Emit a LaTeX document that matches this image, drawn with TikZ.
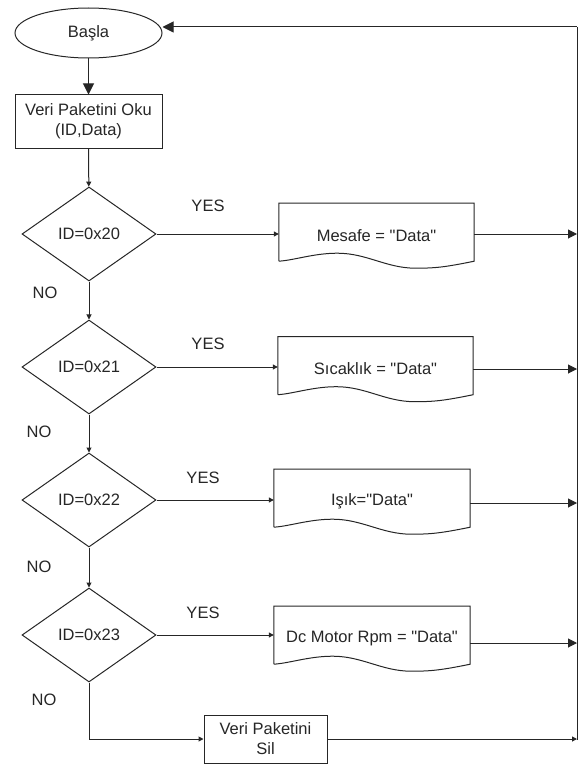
\documentclass[tikz,border=0pt]{standalone}
\usepackage{fontspec}
\setmainfont{Liberation Sans}[Ligatures=TeXOff]
\usetikzlibrary{shapes.geometric,arrows.meta,calc}
\newcommand\docshape[1]{%
  \begin{scope}[shift={(#1.south west)}]
    \path let \p1=($(#1.south east)-(#1.south west)$) in
      [draw=black!85, line width=1pt]
      (0,7) -- (0,65) -- (\x1,65) -- (\x1,7)
      .. controls (0.85*\x1,1) and (0.8*\x1,0) .. (0.7*\x1,0)
      .. controls (0.55*\x1,0) and (0.45*\x1,15) .. (0.3*\x1,15)
      .. controls (0.18*\x1,15) and (0.08*\x1,8) .. (0,7);
  \end{scope}}
\begin{document}
\begin{tikzpicture}[x=1pt,y=1pt,
  font=\fontsize{16.5}{20}\selectfont,
  every node/.style={text=black!85},
  conn/.style={draw=black!85, line width=1pt},
  bigarrow/.style={conn, -{Triangle[length=11pt,width=11pt]}},
  midarrow/.style={conn, -{Triangle[length=9pt,width=9pt]}},
  smallarrow/.style={conn, -{Triangle[length=5pt,width=5pt]}},
  startnode/.style={ellipse, draw=black!85, line width=1pt, minimum width=147pt, minimum height=50pt, inner sep=0pt},
  procbox/.style={rectangle, draw=black!85, line width=1pt, align=center, inner sep=0pt},
  decision/.style={diamond, draw=black!85, line width=1pt, aspect=1.43, minimum width=134pt, minimum height=94pt, inner sep=0pt},
  docnode/.style={rectangle, inner sep=0pt, minimum height=65pt},
  lbl/.style={inner sep=0pt}
]
\useasboundingbox (0,0) rectangle (579,-765);

\node[startnode] (start) at (88.5,-33) {Başla};
\node[procbox, minimum width=147pt, minimum height=53pt] (read) at (88.5,-121.5) {Veri Paketini Oku\\(ID,Data)};

\node[decision] (dia1) at (89,-234) {ID=0x20};
\node[decision] (dia2) at (89,-367) {ID=0x21};
\node[decision] (dia3) at (89,-500) {ID=0x22};
\node[decision] (dia4) at (89,-635) {ID=0x23};

\node[docnode, minimum width=195pt] (d1) at (376.5,-235.5) {Mesafe = "Data"};
\node[docnode, minimum width=195pt] (d2) at (375.5,-369) {Sıcaklık = "Data"};
\node[docnode, minimum width=196pt] (d3) at (372,-501.5) {Işık="Data"};
\node[docnode, minimum width=196pt] (d4) at (372,-638.5) {Dc Motor Rpm = "Data"};
\docshape{d1}
\docshape{d2}
\docshape{d3}
\docshape{d4}

\node[procbox, minimum width=123pt, minimum height=48pt] (sil) at (265.5,-739) {Veri Paketini\\Sil};

\coordinate (top) at (577,-27);
\coordinate (bot) at (577,-740);

% labels
\node[lbl] (y1) at (208,-206) {YES};
\node[lbl] (y2) at (208,-344) {YES};
\node[lbl] (y3) at (203,-478) {YES};
\node[lbl] (y4) at (203,-613) {YES};
\node[lbl] (n1) at (45,-293) {NO};
\node[lbl] (n2) at (39,-432) {NO};
\node[lbl] (n3) at (39,-567) {NO};
\node[lbl] (n4) at (44,-700) {NO};

% main flow
\draw[bigarrow] (start) -- (read);
\draw[smallarrow] (read) -- (dia1);
\draw[smallarrow] (dia1) -- (dia2);
\draw[smallarrow] (dia2) -- (dia3);
\draw[smallarrow] (dia3) -- (dia4);
\draw[smallarrow] (dia4.south) |- (sil.west);

% yes branches
\draw[smallarrow] (dia1.east) -- (dia1.east -| d1.west);
\draw[smallarrow] (dia2.east) -- (dia2.east -| d2.west);
\draw[smallarrow] (dia3.east) -- (dia3.east -| d3.west);
\draw[smallarrow] (dia4.east) -- (dia4.east -| d4.west);

% to return line
\draw[midarrow] ([yshift=1.5pt]d1.east) -- ([yshift=1.5pt]d1.east -| top);
\draw[midarrow] (d2.east) -- (d2.east -| top);
\draw[midarrow] ([yshift=-1.5pt]d3.east) -- ([yshift=-1.5pt]d3.east -| top);
\draw[midarrow] ([yshift=-4.5pt]d4.east) -- ([yshift=-4.5pt]d4.east -| top);
\draw[smallarrow] (sil.east) -- (sil.east -| top);

% return line
\draw[conn] (bot) -- (top);
\draw[bigarrow] (top) -- (top -| start.east);
\end{tikzpicture}
\end{document}
